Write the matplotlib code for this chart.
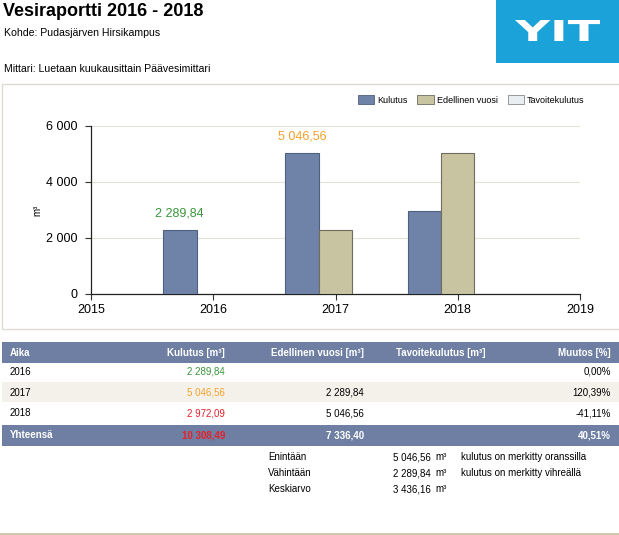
import numpy as np
import matplotlib
matplotlib.use("Agg")
import matplotlib.pyplot as plt
from matplotlib.patches import Rectangle, Patch, PathPatch
from matplotlib.textpath import TextPath
from matplotlib.font_manager import FontProperties
from matplotlib.transforms import Affine2D, IdentityTransform

plt.rcParams['font.family'] = ['Liberation Sans', 'DejaVu Sans']

# data
years = [2016, 2017, 2018]
kulutus = [2289.84, 5046.56, 2972.09]
edellinen = [np.nan, 2289.84, 5046.56]
tavoite = [np.nan, np.nan, np.nan]
muutos = [0.00, 120.39, -41.11]
total_muutos = 40.51
year_ticks = [2015, 2016, 2017, 2018, 2019]
y_ticks = [0, 2000, 4000, 6000]

W, H = 619, 535
c_kul = '#6f82a8'
c_ede = '#c8c3a0'
c_tav = '#e8eef2'
c_head = '#6e7fa3'
c_green = '#3a963a'
c_orange = '#f5a02a'
c_red = '#e5202a'


def fx(px):
    return px / W


def fy(py):
    return 1 - py / H


def fi(v):
    s = f"{v:,.2f}"
    return s.replace(",", " ").replace(".", ",")


fig = plt.figure(figsize=(W / 100, H / 100), dpi=100)

# header texts
fig.text(fx(3), fy(12), "Vesiraportti 2016 - 2018", fontsize=13, fontweight='bold', va='center')
fig.text(fx(4), fy(33), "Kohde: Pudasjärven Hirsikampus", fontsize=7.6, va='center')
fig.text(fx(4), fy(69), "Mittari: Luetaan kuukausittain Päävesimittari", fontsize=7.6, va='center')

# logo (wide white letters on blue box)
fig.patches.append(Rectangle((fx(496), fy(63)), fx(619) - fx(496), fy(0) - fy(63),
                             transform=fig.transFigure, facecolor='#1ba3d9', edgecolor='none'))
tp = TextPath((0, 0), "YIT", size=1, prop=FontProperties(family='DejaVu Sans', weight='bold'))
bb = tp.get_extents()
tr = Affine2D().translate(-bb.x0, -bb.y0).scale(85 / bb.width, 21 / bb.height).translate(515, H - 41)
fig.patches.append(PathPatch(tr.transform_path(tp), facecolor='white', edgecolor='none',
                             transform=IdentityTransform()))

# chart panel
fig.patches.append(Rectangle((fx(2), fy(329)), fx(640) - fx(2), fy(84) - fy(329),
                             transform=fig.transFigure, facecolor='none', edgecolor='#dedbd0', lw=1))

ax = fig.add_axes([fx(91), fy(294), fx(580) - fx(91), fy(126) - fy(294)])
bw = 0.274
x = np.array(years, dtype=float)
ax.bar(x - bw, kulutus, width=bw, color=c_kul, edgecolor='#4f5f80', lw=0.8, zorder=3)
m = ~np.isnan(edellinen)
ax.bar(x[m], np.array(edellinen)[m], width=bw, color=c_ede, edgecolor='#6f6d5d', lw=0.8, zorder=3)

ax.set_xlim(2015, 2019)
ax.set_ylim(0, 6000)
ax.set_xticks(year_ticks)
ax.set_xticklabels([str(y) for y in year_ticks], fontsize=9)
ax.set_yticks(y_ticks)
ax.set_yticklabels([f"{v:,}".replace(",", " ") for v in y_ticks], fontsize=9)
ax.tick_params(length=4, width=0.8, color='#333333')
ax.tick_params(axis='y', pad=6)
ax.tick_params(axis='x', pad=3)
for s in ['top', 'right']:
    ax.spines[s].set_visible(False)
for s in ['left', 'bottom']:
    ax.spines[s].set_color('#222222')
    ax.spines[s].set_linewidth(0.9)
ax.grid(axis='y', color='#e2e2d6', lw=0.8, zorder=0)
ax.set_axisbelow(True)
ax.set_ylabel("m³", fontsize=7)
ax.yaxis.set_label_coords(-0.1, 0.5)
ax.patch.set_alpha(0)

imax = int(np.argmax(kulutus))
imin = int(np.argmin(kulutus))
for i, col in [(imax, c_orange), (imin, c_green)]:
    ax.annotate(fi(kulutus[i]), (x[i] - bw, kulutus[i]), xytext=(0, 11.5), textcoords='offset points',
                ha='center', va='center', fontsize=9, color=col)

handles = [Patch(facecolor=c_kul, edgecolor='#4f5f80', lw=0.6, label='Kulutus'),
           Patch(facecolor=c_ede, edgecolor='#6f6d5d', lw=0.6, label='Edellinen vuosi'),
           Patch(facecolor=c_tav, edgecolor='#8a8a8a', lw=0.6, label='Tavoitekulutus')]
fig.legend(handles=handles, loc='center right', bbox_to_anchor=(fx(589), fy(100)), ncol=3,
           frameon=False, fontsize=6.5, handlelength=1.85, handleheight=1.0, handletextpad=0.3,
           columnspacing=1.1, borderpad=0)

# table
cols_x = [10, 225, 364, 485, 611]
headers = ["Aika", "Kulutus [m³]", "Edellinen vuosi [m³]", "Tavoitekulutus [m³]", "Muutos [%]"]


def band(y0, y1, color):
    fig.patches.append(Rectangle((fx(2), fy(y1)), fx(619) - fx(2), fy(y0) - fy(y1),
                                 transform=fig.transFigure, facecolor=color, edgecolor='none'))


band(342, 363, c_head)
band(382, 402, '#f3f1ea')
band(425, 446, c_head)
for j, h in enumerate(headers):
    fig.text(fx(cols_x[j]), fy(352.5), h, fontsize=7, fontweight='bold', color='white',
             ha='left' if j == 0 else 'right', va='center')

fs = 7
row_y = [372, 392.5, 413]
kcols = {imin: c_green, imax: c_orange}
for i, yr in enumerate(years):
    yy = fy(row_y[i])
    fig.text(fx(cols_x[0]), yy, str(yr), fontsize=fs, va='center')
    fig.text(fx(cols_x[1]), yy, fi(kulutus[i]), fontsize=fs, va='center', ha='right',
             color=kcols.get(i, c_red))
    if not np.isnan(edellinen[i]):
        fig.text(fx(cols_x[2]), yy, fi(edellinen[i]), fontsize=fs, va='center', ha='right')
    fig.text(fx(cols_x[4]), yy, f"{muutos[i]:.2f}%".replace(".", ","), fontsize=fs,
             va='center', ha='right')

yy = fy(435.5)
fig.text(fx(cols_x[0]), yy, "Yhteensä", fontsize=fs, fontweight='bold', color='white', va='center')
fig.text(fx(cols_x[1]), yy, fi(sum(kulutus)), fontsize=fs, fontweight='bold', color=c_red,
         va='center', ha='right')
fig.text(fx(cols_x[2]), yy, fi(np.nansum(edellinen)), fontsize=fs, fontweight='bold', color='white',
         va='center', ha='right')
fig.text(fx(cols_x[4]), yy, f"{total_muutos:.2f}%".replace(".", ","), fontsize=fs, fontweight='bold',
         color='white', va='center', ha='right')

# summary
stats = [("Enintään", max(kulutus), "kulutus on merkitty oranssilla"),
         ("Vähintään", min(kulutus), "kulutus on merkitty vihreällä"),
         ("Keskiarvo", np.mean(kulutus), "")]
for k, (lab, val, desc) in enumerate(stats):
    yy = fy(457 + 16 * k)
    fig.text(fx(268), yy, lab, fontsize=7, va='center')
    fig.text(fx(431), yy, fi(val), fontsize=7, va='center', ha='right')
    fig.text(fx(435), yy, "m³", fontsize=7, va='center')
    fig.text(fx(461), yy, desc, fontsize=7, va='center')

fig.lines.append(plt.Line2D([0, 1], [fy(533.5), fy(533.5)], transform=fig.transFigure,
                            color='#cfc5a0', lw=2))

fig.savefig("out.png", dpi=100)
